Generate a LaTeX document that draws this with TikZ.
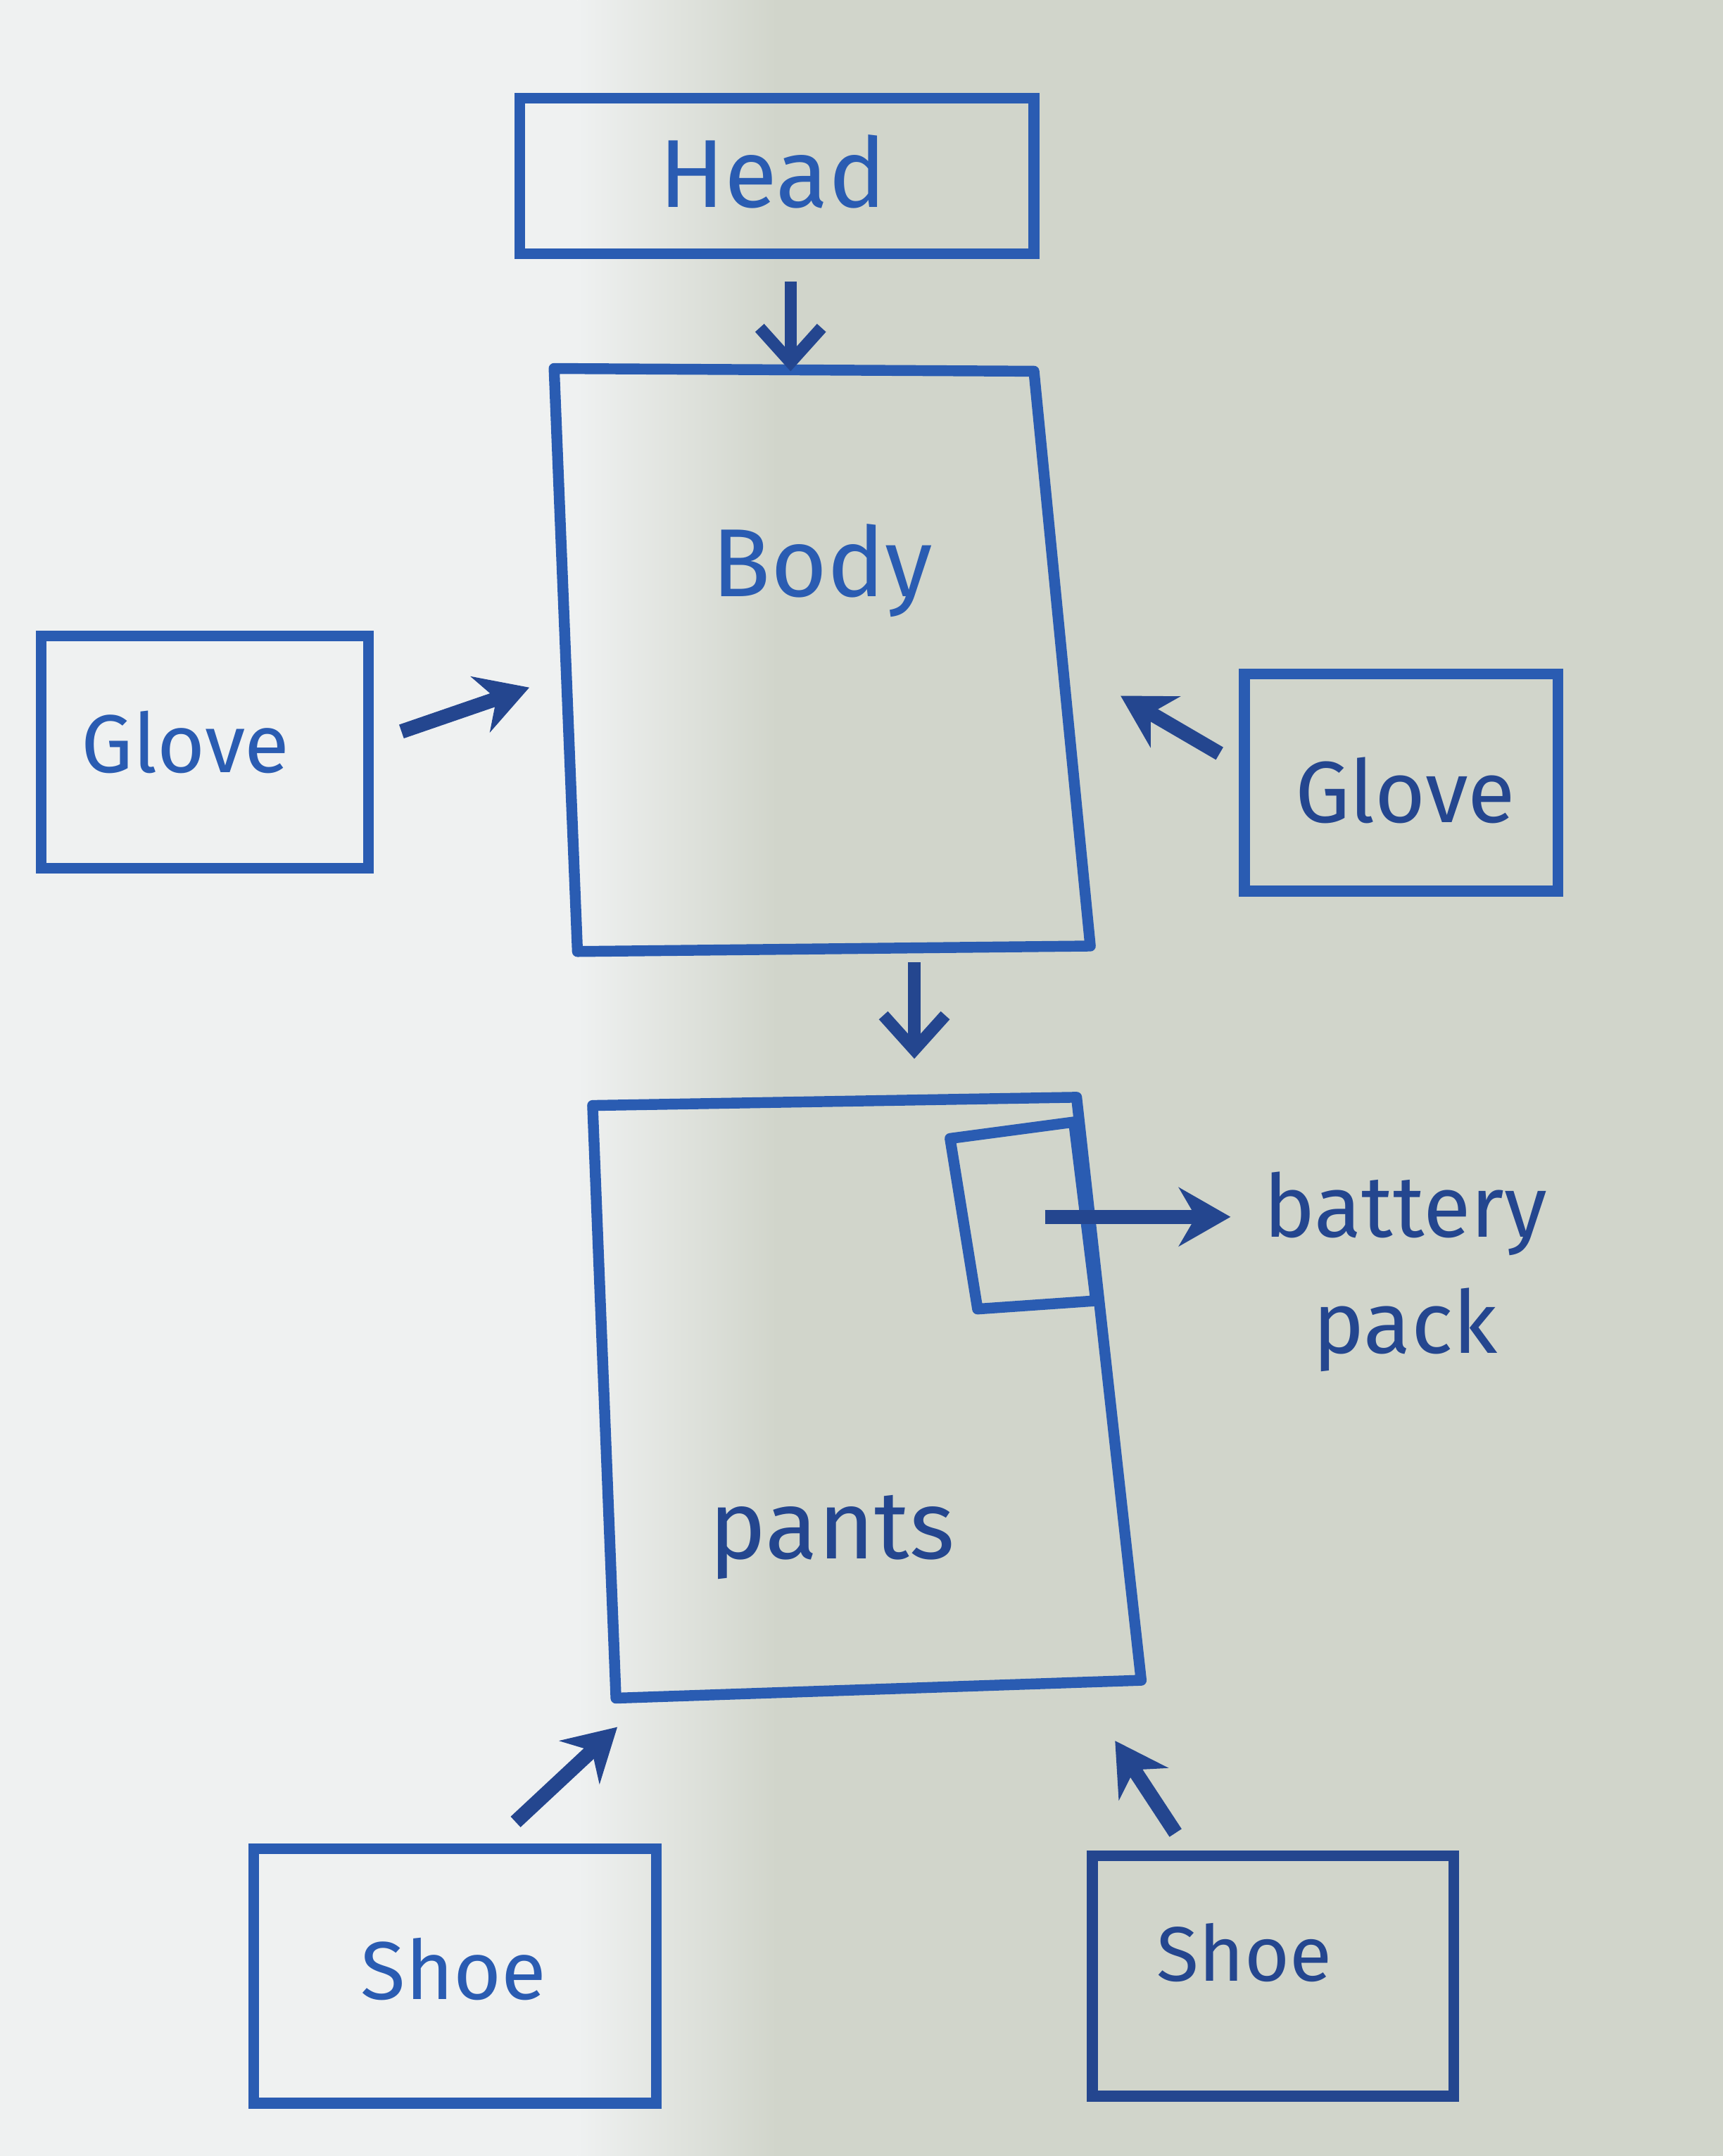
\documentclass[tikz,border=0pt]{standalone}
\usepackage{fontspec}
\setmainfont{Fira Sans}
\usetikzlibrary{arrows.meta}
\definecolor{bgL}{HTML}{EFF1F1}
\definecolor{bgR}{HTML}{D1D5CB}
\definecolor{pen}{HTML}{2A5CB2}
\definecolor{pendark}{HTML}{24468F}
\tikzset{
  box/.style={draw=pen, line width=4.5pt, rectangle, inner sep=0pt},
  outline/.style={draw=pen, line width=4.5pt, line join=round},
  lbl/.style={text=pen, font=\fontsize{40}{44}\selectfont},
  arr/.style={draw=pendark, line width=6pt, -{Stealth[length=0.75cm,width=0.85cm]}},
  varr/.style={draw=pendark, line width=5pt, -{Straight Barb[length=0.5cm,width=0.9cm,line width=5pt]}}
}
\begin{document}
\begin{tikzpicture}[x=0.02cm,y=-0.02cm]
\useasboundingbox (0,0) rectangle (1253,1568);
\fill[bgL] (0,0) rectangle (420,1568);
\shade[left color=bgL, right color=bgR] (420,0) rectangle (565,1568);
\fill[bgR] (564,0) rectangle (1253,1568);

% boxes
\node[box, minimum width=7.48cm, minimum height=2.26cm] (head) at (565,128) {};
\node[minimum width=7.4cm, minimum height=8.48cm] (body) at (595,480) {};
\draw[outline] (403,268) -- (752,270) -- (793,688) -- (420,692) -- cycle;
\node[box, minimum width=4.76cm, minimum height=3.38cm] (lglove) at (149,547) {};
\node[box, minimum width=4.56cm, minimum height=3.16cm] (rglove) at (1019,569) {};
\node[minimum width=7.92cm, minimum height=8.7cm] (pants) at (630,1017) {};
\draw[outline] (431,804) -- (783,798) -- (830,1222) -- (448,1235) -- cycle;
\node[minimum width=2.1cm, minimum height=2.7cm] (battery) at (742,884) {};
\draw[outline] (691,828) -- (781,816) -- (797,946) -- (711,952) -- cycle;
\node[box, minimum width=5.86cm, minimum height=3.7cm] (lshoe) at (331,1437) {};
\node[box, draw=pendark, minimum width=5.26cm, minimum height=3.5cm] (rshoe) at (926,1437) {};

% labels
\node[lbl] (headt) at (562,125) {Head};
\node[lbl] (bodyt) at (598,415) {Body};
\node[lbl, font=\fontsize{34}{38}\selectfont] (lglovet) at (135,540) {Glove};
\node[lbl, text=pendark, font=\fontsize{36}{40}\selectfont] (rglovet) at (1022,575) {Glove};
\node[lbl, text=pendark] (pantst) at (605,1118) {pants};
\node[lbl, text=pendark, font=\fontsize{36}{48}\selectfont, align=center] (battt) at (1022,925) {battery\\pack};
\node[lbl, font=\fontsize{34}{38}\selectfont] (lshoet) at (330,1432) {Shoe};
\node[lbl, text=pendark, font=\fontsize{32}{36}\selectfont] (rshoet) at (905,1420) {Shoe};

% arrow end points
\coordinate (a1s) at (575,205); \coordinate (a1e) at (575,270);
\coordinate (a2s) at (292,532); \coordinate (a2e) at (385,500);
\coordinate (a3s) at (887,548); \coordinate (a3e) at (815,506);
\coordinate (a4s) at (665,700); \coordinate (a4e) at (665,770);
\coordinate (a5s) at (760,885); \coordinate (a5e) at (895,885);
\coordinate (a6s) at (375,1325); \coordinate (a6e) at (449,1256);
\coordinate (a7s) at (855,1333); \coordinate (a7e) at (811,1266);

\draw[varr] (a1s) -- (a1e);
\draw[arr] (a2s) -- (a2e);
\draw[arr] (a3s) -- (a3e);
\draw[varr] (a4s) -- (a4e);
\draw[arr] (a5s) -- (a5e);
\draw[arr] (a6s) -- (a6e);
\draw[arr] (a7s) -- (a7e);
\end{tikzpicture}
\end{document}
